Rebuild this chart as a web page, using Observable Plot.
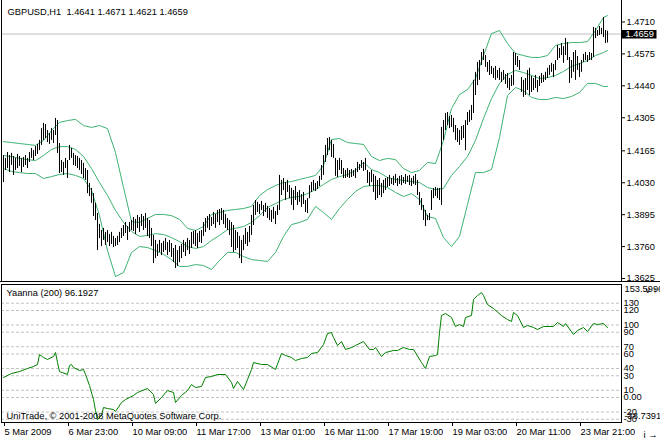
<!DOCTYPE html>
<html><head><meta charset="utf-8">
<script src="https://cdn.jsdelivr.net/npm/d3@7"></script>
<script src="https://cdn.jsdelivr.net/npm/@observablehq/plot@0.6"></script>
<style>
body{margin:0;background:#fff;}
#chart{position:relative;width:660px;height:440px;overflow:hidden;background:#fff;}
#chart svg{position:absolute;left:0;}
#split{position:absolute;left:0;top:281px;width:660px;height:1px;background:#000;}
</style></head><body><div id="chart"><div id="split"></div></div>
<script>
// ---------- DATA ----------
const symbol = "GBPUSD,H1";
const lastOHLC = [1.4641, 1.4671, 1.4621, 1.4659];

// hourly bars, bar index 0..302 (high / low)
const barHigh = [
1.4145,1.4133,1.4158,1.4145,1.4154,1.4141,1.4133,1.4150,1.4141,1.4133,
1.4137,1.4145,1.4133,1.4158,1.4175,1.4166,1.4183,1.4192,1.4209,1.4259,
1.4281,1.4276,1.4251,1.4238,1.4259,1.4251,1.4302,1.4293,1.4196,1.4124,
1.4116,1.4133,1.4124,1.4188,1.4175,1.4154,1.4145,1.4141,1.4133,1.4124,
1.4112,1.4090,1.4082,1.4027,1.4006,1.3984,1.3943,1.3900,1.3854,1.3828,
1.3837,1.3820,1.3828,1.3811,1.3820,1.3803,1.3794,1.3803,1.3820,1.3837,
1.3849,1.3862,1.3845,1.3862,1.3870,1.3883,1.3875,1.3892,1.3883,1.3896,
1.3887,1.3900,1.3879,1.3870,1.3837,1.3807,1.3786,1.3769,1.3786,1.3773,
1.3782,1.3794,1.3777,1.3786,1.3773,1.3752,1.3765,1.3743,1.3760,1.3769,
1.3786,1.3777,1.3794,1.3786,1.3820,1.3824,1.3828,1.3815,1.3824,1.3828,
1.3862,1.3879,1.3887,1.3896,1.3883,1.3904,1.3896,1.3913,1.3917,1.3921,
1.3913,1.3896,1.3879,1.3870,1.3862,1.3849,1.3828,1.3820,1.3803,1.3786,
1.3807,1.3837,1.3820,1.3845,1.3892,1.3934,1.3955,1.3947,1.3938,1.3951,
1.3934,1.3943,1.3930,1.3921,1.3913,1.3926,1.3908,1.3934,1.4061,1.4040,
1.4048,1.4031,1.4040,1.4018,1.4006,1.3997,1.4014,1.3989,1.3997,1.3980,
1.3989,1.3955,1.3963,1.4018,1.4031,1.4040,1.4027,1.4035,1.4057,1.4103,
1.4145,1.4188,1.4217,1.4221,1.4209,1.4192,1.4133,1.4124,1.4133,1.4124,
1.4090,1.4082,1.4090,1.4082,1.4086,1.4082,1.4090,1.4116,1.4107,1.4124,
1.4116,1.4133,1.4082,1.4073,1.4082,1.4065,1.4057,1.4040,1.4048,1.4027,
1.4040,1.4048,1.4052,1.4061,1.4048,1.4057,1.4065,1.4048,1.4057,1.4061,
1.4052,1.4065,1.4057,1.4061,1.4048,1.4057,1.4065,1.4040,1.3989,1.3963,
1.3934,1.3913,1.3892,1.3900,1.3997,1.4006,1.4010,1.4006,1.4006,1.4264,
1.4293,1.4323,1.4327,1.4310,1.4315,1.4302,1.4272,1.4259,1.4251,1.4268,
1.4272,1.4293,1.4327,1.4336,1.4357,1.4463,1.4497,1.4539,1.4547,1.4581,
1.4594,1.4568,1.4539,1.4547,1.4522,1.4514,1.4522,1.4505,1.4514,1.4497,
1.4505,1.4488,1.4492,1.4471,1.4484,1.4581,1.4577,1.4564,1.4547,1.4475,
1.4463,1.4471,1.4505,1.4514,1.4480,1.4471,1.4484,1.4463,1.4480,1.4492,
1.4484,1.4497,1.4514,1.4526,1.4535,1.4530,1.4547,1.4611,1.4598,1.4619,
1.4606,1.4640,1.4623,1.4560,1.4547,1.4581,1.4589,1.4564,1.4535,1.4547,
1.4573,1.4581,1.4568,1.4581,1.4577,1.4687,1.4683,1.4674,1.4691,1.4683,
1.4729,1.4674,1.4671];
const barLow = [
1.4031,1.4082,1.4090,1.4073,1.4103,1.4061,1.4082,1.4090,1.4099,1.4073,
1.4095,1.4103,1.4090,1.4116,1.4133,1.4124,1.4141,1.4150,1.4166,1.4188,
1.4209,1.4217,1.4200,1.4192,1.4209,1.4196,1.4230,1.4154,1.4069,1.4073,
1.4061,1.4090,1.4048,1.4124,1.4133,1.4103,1.4099,1.4090,1.4082,1.4065,
1.4048,1.4040,1.3984,1.3972,1.3943,1.3887,1.3870,1.3743,1.3794,1.3760,
1.3786,1.3765,1.3777,1.3760,1.3769,1.3756,1.3760,1.3765,1.3777,1.3794,
1.3803,1.3815,1.3786,1.3820,1.3828,1.3824,1.3811,1.3837,1.3820,1.3845,
1.3828,1.3837,1.3803,1.3794,1.3760,1.3688,1.3709,1.3718,1.3735,1.3722,
1.3735,1.3743,1.3722,1.3735,1.3714,1.3692,1.3667,1.3676,1.3692,1.3709,
1.3735,1.3718,1.3743,1.3726,1.3752,1.3769,1.3760,1.3752,1.3777,1.3773,
1.3803,1.3820,1.3837,1.3828,1.3845,1.3853,1.3837,1.3862,1.3849,1.3870,
1.3853,1.3837,1.3828,1.3807,1.3756,1.3735,1.3743,1.3752,1.3709,1.3688,
1.3743,1.3769,1.3760,1.3777,1.3807,1.3849,1.3892,1.3904,1.3896,1.3913,
1.3887,1.3904,1.3879,1.3870,1.3862,1.3875,1.3853,1.3892,1.3913,1.3976,
1.3997,1.3955,1.3989,1.3963,1.3934,1.3913,1.3955,1.3934,1.3947,1.3926,
1.3938,1.3904,1.3900,1.3963,1.3989,1.3997,1.3993,1.4001,1.4014,1.4040,
1.4061,1.4116,1.4145,1.4166,1.4137,1.4133,1.4057,1.4052,1.4082,1.4065,
1.4048,1.4048,1.4052,1.4048,1.4052,1.4057,1.4048,1.4073,1.4082,1.4090,
1.4078,1.4082,1.4027,1.4014,1.4031,1.3989,1.3955,1.3963,1.3976,1.3967,
1.3984,1.3997,1.4010,1.4014,1.4023,1.4018,1.4027,1.4014,1.4023,1.4018,
1.4027,1.4023,1.4031,1.4018,1.4014,1.4023,1.4018,1.3976,1.3934,1.3913,
1.3870,1.3845,1.3870,1.3870,1.3913,1.3963,1.3972,1.3963,1.3955,1.3934,
1.4209,1.4251,1.4272,1.4259,1.4264,1.4242,1.4209,1.4200,1.4188,1.4209,
1.4217,1.4166,1.4272,1.4285,1.4293,1.4323,1.4399,1.4441,1.4463,1.4526,
1.4547,1.4518,1.4497,1.4484,1.4488,1.4471,1.4463,1.4471,1.4463,1.4454,
1.4463,1.4446,1.4429,1.4420,1.4437,1.4441,1.4526,1.4518,1.4505,1.4412,
1.4391,1.4399,1.4420,1.4399,1.4412,1.4420,1.4429,1.4412,1.4437,1.4450,
1.4454,1.4463,1.4471,1.4484,1.4497,1.4475,1.4505,1.4547,1.4556,1.4568,
1.4535,1.4568,1.4547,1.4450,1.4471,1.4497,1.4463,1.4505,1.4475,1.4497,
1.4539,1.4547,1.4539,1.4547,1.4547,1.4560,1.4640,1.4649,1.4653,1.4657,
1.4644,1.4619,1.4621];

// Bollinger bands, read at these bar indices
const bandIdx = [0,4,8,12,16,20,24,28,32,36,40,44,48,52,56,60,64,68,72,76,
80,84,88,92,96,100,104,108,112,116,120,124,128,132,136,140,144,148,152,156,
160,164,168,172,176,180,184,188,192,196,200,204,208,212,216,220,224,228,232,236,
240,244,248,252,256,260,264,268,272,276,280,284,288,292,296,300,302];
const bandUpper = [
1.4204,1.4200,1.4196,1.4192,1.4188,1.4209,1.4251,1.4285,1.4293,1.4298,
1.4272,1.4264,1.4272,1.4259,1.4158,1.4010,1.3866,1.3862,1.3879,1.3896,
1.3896,1.3891,1.3875,1.3837,1.3828,1.3845,1.3896,1.3904,1.3913,1.3917,
1.3921,1.3930,1.3976,1.4001,1.4018,1.4031,1.4035,1.4044,1.4052,1.4061,
1.4103,1.4213,1.4217,1.4200,1.4196,1.4192,1.4141,1.4124,1.4133,1.4128,
1.4090,1.4073,1.4082,1.4116,1.4111,1.4209,1.4344,1.4403,1.4424,1.4471,
1.4568,1.4661,1.4674,1.4619,1.4577,1.4568,1.4560,1.4560,1.4568,1.4611,
1.4619,1.4623,1.4623,1.4627,1.4674,1.4729,1.4737];
const bandMiddle = [
1.4145,1.4141,1.4133,1.4128,1.4124,1.4145,1.4171,1.4183,1.4183,1.4171,
1.4141,1.4090,1.4031,1.3976,1.3913,1.3862,1.3824,1.3803,1.3807,1.3815,
1.3811,1.3798,1.3781,1.3760,1.3752,1.3760,1.3786,1.3807,1.3832,1.3837,
1.3845,1.3862,1.3891,1.3925,1.3942,1.3959,1.3968,1.3972,1.3984,1.4001,
1.4023,1.4044,1.4056,1.4065,1.4082,1.4116,1.4086,1.4073,1.4052,1.4044,
1.4040,1.4035,1.4031,1.4010,1.4001,1.4006,1.4061,1.4099,1.4141,1.4209,
1.4302,1.4386,1.4450,1.4488,1.4505,1.4496,1.4484,1.4471,1.4475,1.4484,
1.4501,1.4522,1.4534,1.4547,1.4568,1.4581,1.4589];
const bandLower = [
1.4090,1.4078,1.4073,1.4069,1.4069,1.4048,1.4056,1.4065,1.4069,1.4061,
1.4048,1.3997,1.3891,1.3743,1.3633,1.3650,1.3735,1.3760,1.3756,1.3743,
1.3727,1.3705,1.3676,1.3676,1.3684,1.3680,1.3663,1.3701,1.3735,1.3735,
1.3718,1.3705,1.3701,1.3697,1.3735,1.3803,1.3853,1.3862,1.3875,1.3930,
1.3904,1.3875,1.3921,1.3959,1.3993,1.4014,1.4018,1.4018,1.4010,1.3989,
1.3972,1.3984,1.3959,1.3887,1.3879,1.3798,1.3760,1.3803,1.3938,1.4073,
1.4073,1.4086,1.4221,1.4399,1.4433,1.4420,1.4391,1.4382,1.4382,1.4391,
1.4386,1.4395,1.4412,1.4450,1.4450,1.4437,1.4437];

// Yaanna (200) indicator, read at these bar indices
const yaIdx = [0,4,8,12,15,17,18,20,22,25,26,27,28,32,33,34,35,38,40,41,
43,45,46,47,49,50,52,55,56,59,61,63,65,67,72,75,76,79,82,85,
86,89,92,94,96,99,101,104,107,111,114,115,117,120,122,124,125,129,132,136,
139,141,144,146,149,152,154,157,160,162,164,165,167,169,171,174,176,180,183,185,
186,189,191,195,197,200,203,205,209,211,213,216,217,218,219,221,224,226,228,230,
231,234,235,237,239,240,242,245,249,252,254,255,257,260,262,265,267,270,275,277,
280,281,285,287,290,292,295,297,300,302];
const yaVal = [27.6,33.1,35.8,40.0,42.7,45.5,59.3,55.1,52.4,56.5,62.0,48.2,35.8,31.7,44.1,45.5,41.4,37.2,38.6,31.7,
16.5,-2.8,-17.9,-30.3,-24.8,-13.8,-15.2,-16.5,-19.3,-6.9,-2.8,0,2.8,6.9,12.4,4.1,-8.3,0,9.6,6.9,
-6.9,2.8,9.6,17.9,13.8,15.2,27.6,28.9,31.7,31.7,20.7,12.4,22.1,11.0,24.8,38.6,48.2,45.5,45.5,38.6,
60.7,57.9,55.1,51.0,53.8,55.1,60.7,62.0,73.1,88.2,89.6,82.7,71.7,77.2,66.2,68.9,71.7,77.2,66.2,66.2,
68.9,56.5,62.0,64.8,64.8,68.9,66.2,66.2,48.2,40.0,56.5,57.9,59.3,89.6,113.0,115.8,110.3,97.9,100.6,97.9,
110.3,113.0,135.1,140.6,144.7,140.6,128.2,122.7,113.0,107.5,104.8,117.2,113.0,96.5,99.3,96.5,93.7,97.9,97.9,103.4,
97.9,102.0,86.9,92.4,96.5,91.0,102.0,100.6,102.0,96.19];
const yaMax = 153.5996, yaMin = -38.7391;
const yaLabel = "Yaanna (200) 96.1927";
const levelVals = [130,120,100,90,70,60,40,30,10,0,-20,-30];
const levelLabels = ["130","120","100","90","70","60","40","30","10","0.00","-20","-30"];

// axes
const priceTickLabels = ["1.4710","1.4575","1.4440","1.4305","1.4165","1.4030","1.3895","1.3760","1.3625"];
const timeTickIdx = [0,32,64,96,128,160,192,224,256,288];
const timeTickLabels = ["5 Mar 2009","6 Mar 23:00","10 Mar 09:00","11 Mar 17:00","13 Mar 01:00",
  "16 Mar 11:00","17 Mar 19:00","19 Mar 03:00","20 Mar 11:00","23 Mar 21:00"];
const copyright = "UniTrade, \u00a9 2001-2008 MetaQuotes Software Corp.";

// ---------- BUILD ----------
const bars = barHigh.map((h, i) => ({i, high: h, low: barLow[i]}));
const band = (arr) => bandIdx.map((i, k) => ({i, v: arr[k]}));
const ya = yaIdx.map((i, k) => ({i, v: yaVal[k]}));
const priceTicks = priceTickLabels.map(Number);
const lastClose = lastOHLC[3];
const lastText = lastClose.toFixed(4);
const titleText = symbol + "\u00a0 " + lastOHLC.map(d => d.toFixed(4)).join(" ");

const FONT = "font-family:'Liberation Sans',Arial,sans-serif;font-size:9.3px;color:#000;background:transparent;overflow:visible;";
const bandColor = "#3cb371";

const topChart = Plot.plot({
  width: 660, height: 282,
  marginLeft: 1, marginRight: 39, marginTop: 0, marginBottom: 1,
  style: FONT,
  x: {domain: [0, 302], range: [3, 607], axis: null},
  y: {domain: [1.36123, 1.48009], axis: null},
  marks: [
    Plot.ruleY([lastClose], {stroke: "#c0c0c0"}),
    Plot.line(band(bandUpper), {x: "i", y: "v", stroke: bandColor, strokeWidth: 1}),
    Plot.line(band(bandMiddle), {x: "i", y: "v", stroke: bandColor, strokeWidth: 1}),
    Plot.line(band(bandLower), {x: "i", y: "v", stroke: bandColor, strokeWidth: 1}),
    Plot.ruleX(bars, {x: "i", y1: "low", y2: "high", stroke: "#000", strokeWidth: 1}),
    Plot.axisY({anchor: "right", ticks: priceTicks,
      tickFormat: d => priceTickLabels[priceTicks.indexOf(d)],
      tickSize: 3, tickPadding: 2, textAnchor: "start"}),
    Plot.text([lastClose], {y: d => d, text: () => lastText, frameAnchor: "right",
      dx: 4, textAnchor: "start", fill: "#fff"}),
    Plot.text([titleText], {text: d => d, frameAnchor: "top-left", dx: 6, dy: 14,
      lineAnchor: "bottom", textAnchor: "start", fill: "#000"}),
    Plot.frame({anchor: "left", stroke: "#000"}),
    Plot.frame({anchor: "right", stroke: "#000"})
  ]
});

const lowChart = Plot.plot({
  width: 660, height: 157,
  marginLeft: 1, marginRight: 39, marginTop: 1, marginBottom: 18,
  style: FONT,
  x: {domain: [0, 302], range: [3, 607], axis: null},
  y: {domain: [yaMin, yaMax], range: [142.1, 2.6], axis: null},
  marks: [
    Plot.ruleY(levelVals, {stroke: "#c0c0c0", strokeDasharray: "3,2"}),
    Plot.line(ya, {x: "i", y: "v", stroke: "#008000", strokeWidth: 1}),
    Plot.axisY({anchor: "right", ticks: levelVals,
      tickFormat: d => levelLabels[levelVals.indexOf(d)],
      tickSize: 0, tickPadding: 2, textAnchor: "start"}),
    Plot.axisX({anchor: "bottom", ticks: timeTickIdx,
      tickFormat: d => timeTickLabels[timeTickIdx.indexOf(d)],
      tickSize: 4, tickPadding: 2, textAnchor: "start", dx: 1}),
    Plot.text([yaLabel], {text: d => d, frameAnchor: "top-left", dx: 5, dy: 11,
      lineAnchor: "bottom", textAnchor: "start", fill: "#000"}),
    Plot.text([copyright], {text: d => d, frameAnchor: "bottom-left", dx: 5, dy: -3.5,
      lineAnchor: "bottom", textAnchor: "start", fill: "#000"}),
    Plot.text([yaMax], {text: d => d.toFixed(4), frameAnchor: "top-right", dx: 3, dy: 4.5,
      lineAnchor: "middle", textAnchor: "start", fill: "#000"}),
    Plot.text([yaMin], {text: d => d.toFixed(4), frameAnchor: "bottom-right", dx: 3, dy: -6,
      lineAnchor: "middle", textAnchor: "start", fill: "#000"}),
    Plot.frame({stroke: "#000"})
  ]
});

const host = document.getElementById("chart");
topChart.style.top = "0px";
lowChart.style.top = "283px";
host.appendChild(topChart);
host.appendChild(lowChart);

// black box behind the current price label (position from the y scale)
const cy = topChart.scale("y").apply(lastClose);
const lp = Array.from(topChart.querySelectorAll("text")).find(t => t.textContent === lastText);
const rect = document.createElementNS("http://www.w3.org/2000/svg", "rect");
rect.setAttribute("x", 621.5);
rect.setAttribute("y", Math.round(cy) - 4);
rect.setAttribute("width", 35);
rect.setAttribute("height", 8.5);
rect.setAttribute("fill", "#000");
if (lp) {
  let g = lp;
  while (g.parentNode && g.parentNode !== topChart) g = g.parentNode;
  topChart.insertBefore(rect, g);
} else {
  topChart.appendChild(rect);
}
</script>
</body></html>
